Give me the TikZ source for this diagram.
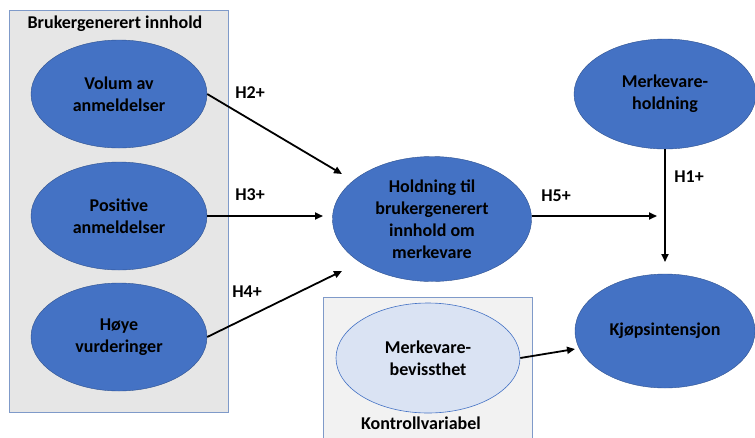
\documentclass[tikz,border=0pt]{standalone}
\usepackage{fontspec}
\setmainfont{Carlito}
\usetikzlibrary{shapes.geometric,arrows.meta}
\definecolor{dblue}{HTML}{4472C4}
\definecolor{bord}{HTML}{2F528F}
\definecolor{lblue}{HTML}{DAE3F3}
\definecolor{boxgray}{HTML}{E6E6E6}
\definecolor{boxgray2}{HTML}{F2F2F2}
\definecolor{boxline}{HTML}{7F9AC9}
\tikzset{
  ell/.style={ellipse, fill=dblue, draw=bord, line width=0.4pt, inner sep=0pt,
    align=center, font=\fontsize{18}{22}\selectfont\bfseries},
  lell/.style={ellipse, fill=lblue, draw=dblue, line width=0.6pt, inner sep=0pt,
    align=center, font=\fontsize{18}{22}\selectfont\bfseries},
  grp/.style={draw=boxline, line width=0.8pt},
  lbl/.style={font=\fontsize{18}{20}\selectfont\bfseries, inner sep=0pt},
  arr/.style={line width=1.8pt, -{Triangle[length=8pt,width=7pt]}},
}
\begin{document}
\begin{tikzpicture}[x=1pt,y=-1pt]
\useasboundingbox (0,0) rectangle (755,437);
% groups
\draw[grp, fill=boxgray] (9,10) rectangle (228,412);
\node[lbl] (t1) at (115,24) {Brukergenerert innhold};
\draw[grp, fill=boxgray2] (323,297) rectangle (532,445);
\node[lbl] (t2) at (421,423) {Kontrollvariabel};
% nodes
\node[ell, minimum width=176pt, minimum height=108pt] (vol) at (119,94) {Volum av\\anmeldelser};
\node[ell, minimum width=176pt, minimum height=108pt] (pos) at (119,216) {Positive\\anmeldelser};
\node[ell, minimum width=176pt, minimum height=108pt] (hoy) at (119,337) {Høye\\vurderinger};
\node[ell, minimum width=199pt, minimum height=125pt] (hold) at (432,219) {Holdning til\\brukergenerert\\innhold om\\merkevare};
\node[ell, minimum width=182pt, minimum height=110pt] (mh) at (665,94) {Merkevare-\\holdning};
\node[ell, minimum width=180pt, minimum height=114pt] (kj) at (665,331) {Kjøpsintensjon};
\node[lell, minimum width=184pt, minimum height=110pt] (bev) at (428,358) {Merkevare-\\bevissthet};
% connector end points
\coordinate (e2) at (342,174);
\coordinate (e3) at (323,216);
\coordinate (e4) at (342,271);
\coordinate (e5) at (657,216);
\coordinate (e1) at (665,262);
\coordinate (ec) at (575,349);
\draw[arr] (vol.east) -- (e2);
\draw[arr] (pos.east) -- (e3);
\draw[arr] (hoy.east) -- (e4);
\draw[arr] (hold.east |- e5) -- (e5);
\draw[arr] (mh.south) -- (e1);
\draw[arr] (bev.east) -- (ec);
% labels
\node[lbl] (h2) at (250,93) {H2+};
\node[lbl] (h3) at (250,195) {H3+};
\node[lbl] (h4) at (247,292) {H4+};
\node[lbl] (h5) at (556,196) {H5+};
\node[lbl] (h1) at (689,177) {H1+};
\end{tikzpicture}
\end{document}
